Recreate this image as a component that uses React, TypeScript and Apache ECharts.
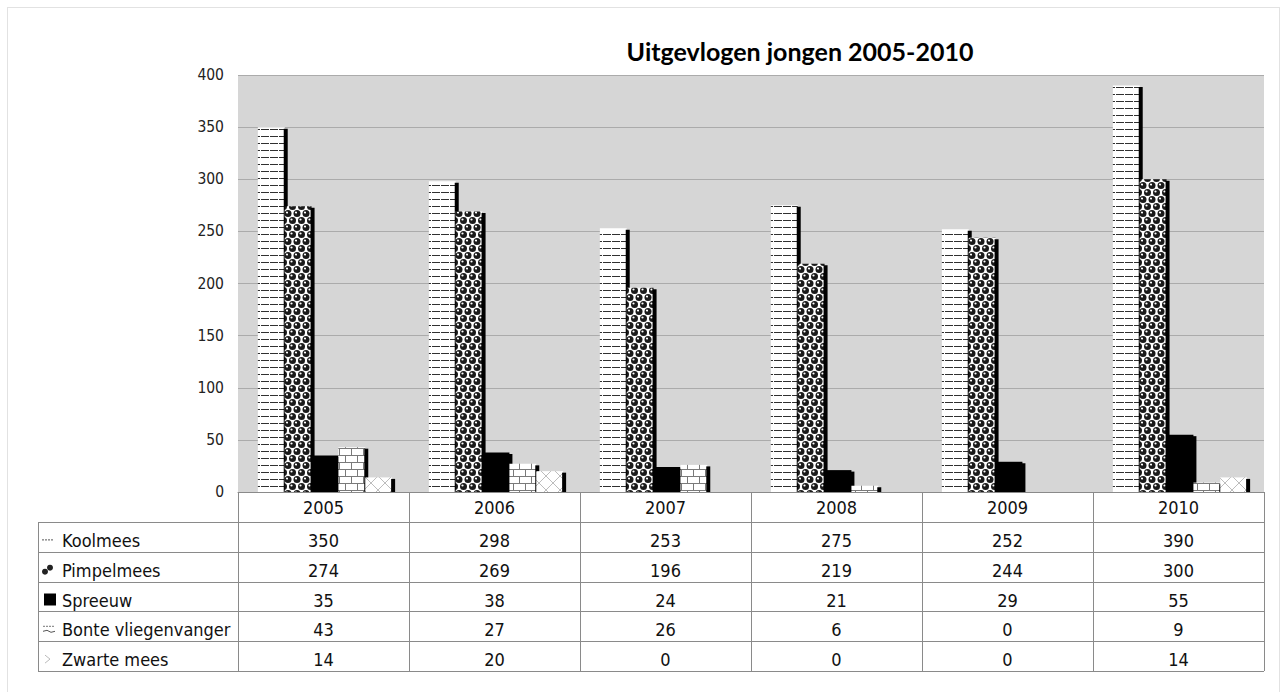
import React, { useEffect, useRef } from "react";
import * as echarts from "echarts";

// ---------- data ----------
const years = ["2005", "2006", "2007", "2008", "2009", "2010"];
const seriesNames = ["Koolmees", "Pimpelmees", "Spreeuw", "Bonte vliegenvanger", "Zwarte mees"];
const koolmees = [350, 298, 253, 275, 252, 390];
const pimpelmees = [274, 269, 196, 219, 244, 300];
const spreeuw = [35, 38, 24, 21, 29, 55];
const bonteVliegenvanger = [43, 27, 26, 6, 0, 9];
const zwarteMees = [14, 20, 0, 0, 0, 14];
const yMin = 0;
const yMax = 400;
const yInterval = 50;
const chartTitle = "Uitgevlogen jongen 2005-2010";

const allSeries = [koolmees, pimpelmees, spreeuw, bonteVliegenvanger, zwarteMees];

// ---------- styles ----------
const TBL_FONT = "'DejaVu Sans Condensed', 'Liberation Sans', sans-serif";
const LINE = "#8a8a8a";

const svgUrl = (w: number, h: number, body: string) =>
  "data:image/svg+xml;charset=utf-8," +
  encodeURIComponent(
    `<svg xmlns="http://www.w3.org/2000/svg" width="${w}" height="${h}" shape-rendering="crispEdges">${body}</svg>`
  );

const pat = (w: number, h: number, body: string) => ({
  image: svgUrl(w, h, body),
  repeat: "repeat",
  imageWidth: w,
  imageHeight: h,
});

const patterns: any[] = [
  pat(9, 7, `<rect width="9" height="7" fill="#fff"/><rect x="0" y="3" width="8" height="1" fill="#303030"/>`),
  pat(
    9,
    14,
    `<rect width="9" height="14" fill="#fff"/>
     <g shape-rendering="auto">
     <circle cx="0" cy="3.5" r="3.5" fill="#1a1a1a"/><circle cx="9" cy="3.5" r="3.5" fill="#1a1a1a"/>
     <circle cx="4.5" cy="10.5" r="3.5" fill="#1a1a1a"/>
     <circle cx="8" cy="2.5" r="1.1" fill="#fff"/><circle cx="3.5" cy="9.5" r="1.1" fill="#fff"/>
     </g>`
  ),
  "#000000",
  pat(
    12,
    14,
    `<rect width="12" height="14" fill="#fff"/>
     <rect x="0" y="0" width="12" height="1" fill="#7a7a7a"/>
     <rect x="0" y="7" width="12" height="1" fill="#7a7a7a"/>
     <rect x="3" y="0" width="1" height="7" fill="#7a7a7a"/>
     <rect x="9" y="7" width="1" height="7" fill="#7a7a7a"/>`
  ),
  pat(
    14,
    14,
    `<rect width="14" height="14" fill="#fff"/>
     <path d="M0 0 L14 14 M14 0 L0 14" stroke="#bdbdbd" stroke-width="1" fill="none" shape-rendering="auto"/>`
  ),
];

const GRID = { left: 238, top: 75, width: 1026, height: 417 };

const makeSeries = (name: string, data: number[], idx: number) => ({
  type: "custom",
  name,
  data: data.map((v, i) => [i, v]),
  encode: { x: 0, y: 1 },
  renderItem: (params: any, api: any) => {
    const ci = api.value(0);
    const v = api.value(1);
    const base = api.coord([ci, 0]);
    const top = api.coord([ci, v]);
    const band = api.size([1, 0])[0];
    const slot = band * 0.157;
    const x0 = base[0] - slot * 2.5 + idx * slot + 1.5;
    const h = base[1] - top[1];
    if (!(h > 0)) return { type: "group", children: [] };
    return {
      type: "group",
      children: [
        {
          type: "rect",
          shape: { x: x0, y: top[1], width: slot, height: h },
          style: { fill: patterns[idx] },
        },
        {
          type: "rect",
          shape: { x: x0 + slot - 1, y: top[1] + 1.5, width: 4, height: Math.max(h - 1.5, 0) },
          style: { fill: "#000" },
        },
      ],
    };
  },
});

export default function App() {
  const ref = useRef<HTMLDivElement>(null);
  useEffect(() => {
    const chart = echarts.init(ref.current!, null, { renderer: "svg" });
    const tableBottom = 671;
    chart.setOption({
      animation: false,
      backgroundColor: "#ffffff",
      grid: { ...GRID, show: true, backgroundColor: "#d6d6d6", borderWidth: 0 },
      xAxis: {
        type: "category",
        data: years,
        axisLine: { show: true, lineStyle: { color: LINE, width: 1 } },
        axisTick: { show: true, length: tableBottom - (GRID.top + GRID.height), lineStyle: { color: LINE, width: 1 } },
        axisLabel: { fontFamily: TBL_FONT, fontSize: 18, color: "#111", margin: 6 },
        splitLine: { show: false },
      },
      yAxis: {
        type: "value",
        min: yMin,
        max: yMax,
        interval: yInterval,
        axisLine: { show: false },
        axisTick: { show: false },
        axisLabel: { fontFamily: TBL_FONT, fontSize: 15.5, color: "#222", margin: 14 },
        splitLine: { show: true, lineStyle: { color: "#ababab", width: 1 } },
      },
      series: seriesNames.map((n, i) => makeSeries(n, allSeries[i], i)),
    });

    // ----- data table (values come from the arrays, columns from the x axis) -----
    const y0 = chart.convertToPixel({ yAxisIndex: 0 }, 0) as number;
    const left = 38;
    const right = GRID.left + GRID.width;
    const headerBottom = y0 + 30;
    const rowH = (tableBottom - headerBottom) / seriesNames.length;
    const elements: any[] = [];
    // outer dotted border
    elements.push({
      type: "rect",
      shape: { x: 7.5, y: 7.5, width: 1272, height: 710 },
      style: { fill: "none", stroke: "#c4c4c4", lineWidth: 1, lineDash: [1, 1] },
      silent: true,
    });
    elements.push({
      type: "text",
      x: 800,
      y: 51,
      style: {
        text: chartTitle,
        fontFamily: "Lato, 'Open Sans', sans-serif",
        fontWeight: "bold",
        fontSize: 25,
        fill: "#000",
        align: "center",
        verticalAlign: "middle",
      },
    });
    for (let r = 0; r <= seriesNames.length; r++) {
      const y = Math.round(headerBottom + r * rowH) + 0.5;
      elements.push({
        type: "line",
        shape: { x1: left, y1: y, x2: right, y2: y },
        style: { stroke: LINE, lineWidth: 1 },
      });
    }
    elements.push({
      type: "line",
      shape: { x1: left + 0.5, y1: headerBottom, x2: left + 0.5, y2: tableBottom },
      style: { stroke: LINE, lineWidth: 1 },
    });
    seriesNames.forEach((name, r) => {
      const cy = headerBottom + r * rowH + rowH / 2 + 3.5;
      elements.push({
        type: "text",
        x: 62,
        y: cy,
        style: { text: name, fontFamily: TBL_FONT, fontSize: 18, fill: "#111", align: "left", verticalAlign: "middle" },
      });
      allSeries[r].forEach((v, i) => {
        const cx = chart.convertToPixel({ xAxisIndex: 0 }, years[i]) as number;
        elements.push({
          type: "text",
          x: cx,
          y: cy,
          style: { text: String(v), fontFamily: TBL_FONT, fontSize: 18, fill: "#111", align: "center", verticalAlign: "middle" },
        });
      });
    });
    // legend keys
    const k = (r: number) => headerBottom + r * rowH + rowH / 2 + 3;
    elements.push({
      type: "line",
      shape: { x1: 42, y1: k(0), x2: 54, y2: k(0) },
      style: { stroke: "#555", lineWidth: 1, lineDash: [2, 1] },
    });
    elements.push({ type: "circle", shape: { cx: 45, cy: k(1) + 2, r: 3 }, style: { fill: "#222" } });
    elements.push({ type: "circle", shape: { cx: 50, cy: k(1) - 2, r: 3 }, style: { fill: "#222" } });
    elements.push({ type: "rect", shape: { x: 44, y: k(2) - 6, width: 12, height: 12 }, style: { fill: "#000" } });
    elements.push({
      type: "line",
      shape: { x1: 43, y1: k(3) - 3, x2: 55, y2: k(3) - 3 },
      style: { stroke: "#777", lineWidth: 1, lineDash: [2, 1] },
    });
    elements.push({
      type: "polyline",
      shape: { points: [[43, k(3) + 2], [47, k(3) + 1], [51, k(3) + 3], [55, k(3) + 2]] },
      style: { stroke: "#555", lineWidth: 1, fill: "none" },
    });
    elements.push({
      type: "polyline",
      shape: { points: [[45, k(4) - 4], [50, k(4)], [45, k(4) + 4]] },
      style: { stroke: "#bbb", lineWidth: 1, fill: "none" },
    });
    chart.setOption({ graphic: { elements } });
    return () => chart.dispose();
  }, []);
  return <div ref={ref} style={{ position: "fixed", left: 0, top: 0, width: 1282, height: 692 }} />;
}
